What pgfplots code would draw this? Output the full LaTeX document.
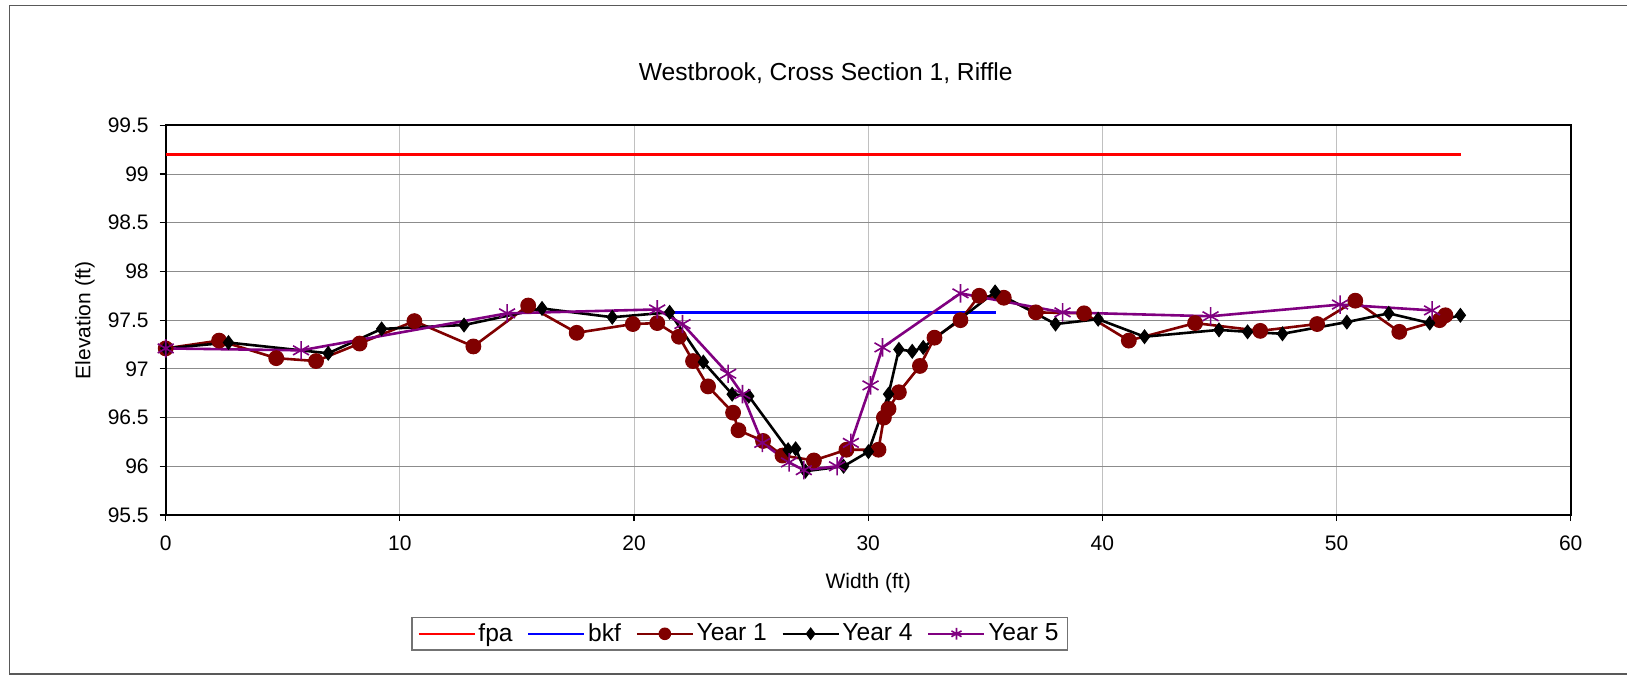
\documentclass[border=0pt]{standalone}
\usepackage{fontspec}
\setmainfont{Liberation Sans}
\usepackage{pgfplots}
\pgfplotsset{compat=1.18}
\definecolor{fpacol}{HTML}{FF0000}
\definecolor{bkfcol}{HTML}{0000FF}
\definecolor{yone}{HTML}{800000}
\definecolor{yfive}{HTML}{800080}
\definecolor{hgrid}{HTML}{8C8C8C}
\definecolor{vgrid}{HTML}{C0C0C0}
\begin{document}
\begin{tikzpicture}
\useasboundingbox (0pt,0pt) rectangle (813.5pt,337.5pt);
\draw[black!65, line width=0.6pt] (4.65pt,0.5pt) rectangle (830pt,334.65pt);
\begin{axis}[
  at={(82.85pt,80pt)}, anchor=south west,
  scale only axis, width=702.5pt, height=194.85pt,
  xmin=0, xmax=60, ymin=95.5, ymax=99.5,
  xtick={0,10,...,60}, ytick={95.5,96,...,99.5},
  yticklabels={95.5,96,96.5,97,97.5,98,98.5,99,99.5},
  xmajorgrids, ymajorgrids,
  major x grid style={color=vgrid, line width=0.5pt},
  major y grid style={color=hgrid, line width=0.5pt},
  axis line style={black, line width=1pt},
  tick align=outside, xtick pos=bottom, ytick pos=left,
  major tick length=3pt,
  tick style={black, line width=0.6pt},
  /pgf/number format/assume math mode=true,
  ticklabel style={font=\fontsize{10.5}{12}\selectfont},
  xticklabel style={yshift=-4pt},
  yticklabel style={xshift=-2pt},
  title={Westbrook, Cross Section 1, Riffle},
  title style={font=\fontsize{12.3}{14}\selectfont, at={(axis description cs:0.4698,1.0847)}, anchor=base, inner sep=0pt},
  xlabel={Width (ft)},
  ylabel={Elevation (ft)},
  label style={font=\fontsize{10.5}{12}\selectfont},
  xlabel style={at={(axis description cs:0.5,-0.1745)}, anchor=center},
  ylabel style={at={(axis description cs:-0.0574,0.5)}, anchor=center},
  legend columns=-1,
  legend style={at={(axis description cs:0.1746,-0.349)}, anchor=south west,
    font=\fontsize{12.3}{14}\selectfont, draw=black!55, line width=0.8pt,
    inner xsep=3pt, inner ysep=2pt,
    /tikz/every even column/.append style={column sep=6pt},
    nodes={inner xsep=1.5pt, inner ysep=1pt}},
  legend image code/.code={\draw[mark repeat=2,mark phase=2,#1, line width=0.8pt, mark size=2.9pt] plot coordinates {(0pt,0pt)(14pt,0pt)(28pt,0pt)};},
]
\addplot[fpacol, line width=1.2pt, no markers] coordinates {(0,99.2) (55.3,99.2)};
\addlegendentry{fpa}
\addplot[bkfcol, line width=1.2pt, no markers] coordinates {(21.5,97.58) (35.45,97.58)};
\addlegendentry{bkf}
\addplot[yone, line width=1.3pt, mark=*, mark size=3.7pt, mark options={fill=yone, draw=yone, solid, line width=0.5pt}] coordinates {
(0,97.21) (2.28,97.29) (4.72,97.11) (6.42,97.08) (8.28,97.26) (10.62,97.49) (13.14,97.23) (15.48,97.65) (17.55,97.37) (19.95,97.46) (20.99,97.47) (21.92,97.33) (22.52,97.08) (23.16,96.82) (24.23,96.55) (24.46,96.37) (25.51,96.26) (26.34,96.11) (27.68,96.06) (29.07,96.17) (30.44,96.17) (30.67,96.50) (30.87,96.59) (31.31,96.76) (32.21,97.03) (32.83,97.32) (33.94,97.50) (34.74,97.75) (35.79,97.73) (37.16,97.58) (39.22,97.57) (41.13,97.29) (43.96,97.47) (46.74,97.39) (49.17,97.46) (50.8,97.70) (52.68,97.38) (54.4,97.50) (54.65,97.55)};
\addlegendentry{Year 1}
\addplot[black, line width=1.3pt, mark=diamond*, mark size=3.4pt, mark options={fill=black, solid, line width=0.5pt}] coordinates {
(0,97.21) (2.68,97.27) (6.94,97.16) (9.22,97.41) (12.74,97.45) (16.07,97.62) (19.07,97.53) (21.52,97.58) (22.96,97.07) (24.19,96.74) (24.9,96.72) (26.58,96.17) (26.9,96.18) (27.32,95.95) (28.95,96.0) (30.01,96.15) (30.87,96.74) (31.31,97.20) (31.88,97.18) (32.35,97.22) (35.42,97.79) (38.0,97.46) (39.82,97.51) (41.8,97.33) (44.98,97.40) (46.2,97.38) (47.69,97.36) (50.44,97.48) (52.23,97.57) (53.98,97.47) (55.29,97.55)};
\addlegendentry{Year 4}
\addplot[yfive, line width=1.3pt, mark=asterisk, mark size=4.6pt, mark options={line width=0.8pt, solid}] coordinates {
(0,97.21) (5.78,97.19) (14.58,97.57) (20.99,97.61) (22.07,97.46) (24.02,96.95) (24.63,96.74) (25.48,96.24) (26.62,96.04) (27.25,95.96) (28.67,96.0) (29.26,96.24) (30.1,96.83) (30.61,97.22) (33.94,97.775) (38.3,97.58) (44.62,97.54) (50.15,97.66) (54.08,97.60)};
\addlegendentry{Year 5}
\end{axis}
\end{tikzpicture}
\end{document}
